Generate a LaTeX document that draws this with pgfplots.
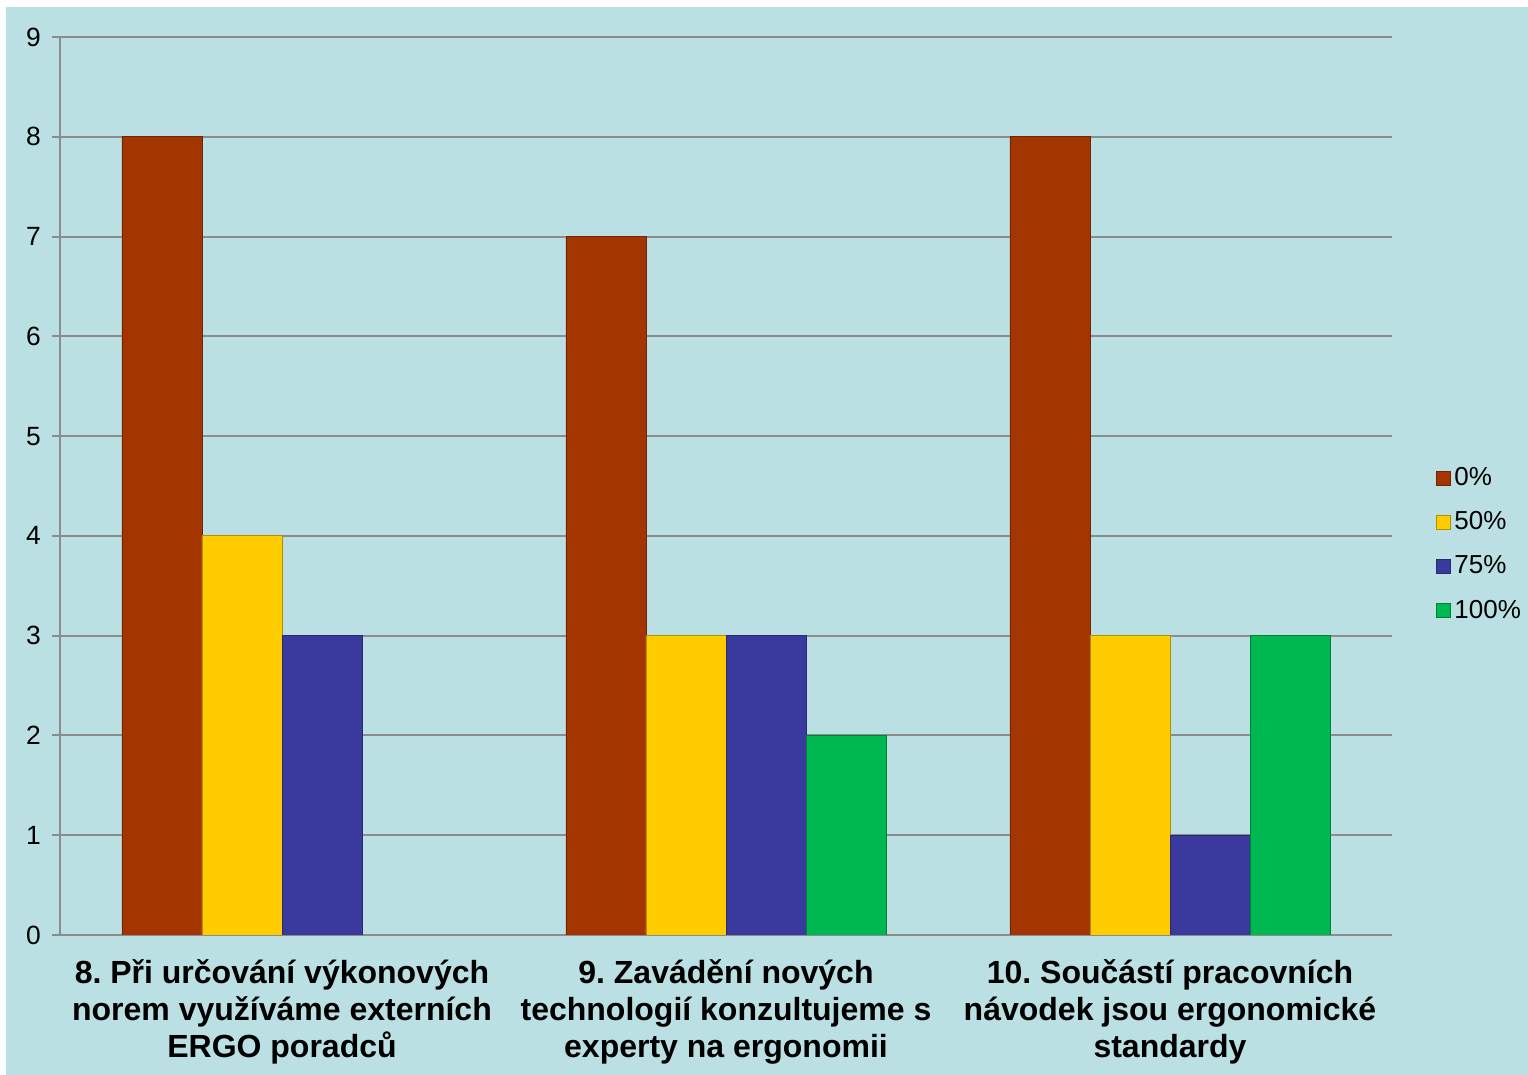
\documentclass[border=0pt]{standalone}
\usepackage{pgfplots}
\pgfplotsset{compat=1.18}
\usepackage{fontspec}
\setmainfont{Liberation Sans}
\frenchspacing
\definecolor{bgc}{HTML}{BAE0E3}
\definecolor{cred}{HTML}{A33500}
\definecolor{cyel}{HTML}{FFCC00}
\definecolor{cblu}{HTML}{3A3A9E}
\definecolor{cgrn}{HTML}{00B852}
\definecolor{gridc}{HTML}{8C8C8C}
\begin{document}
\begin{tikzpicture}
\useasboundingbox (0,0) rectangle (764pt,537.5pt);
\fill[white] (0,0) rectangle (764pt,537.5pt);
\fill[bgc] (3pt,0) rectangle (764pt,534pt);
\begin{axis}[
  at={(30pt,70pt)}, anchor=south west,
  scale only axis, width=666pt, height=449pt,
  ybar=0pt, bar width=40pt,
  xmin=-0.5, xmax=2.5, ymin=0, ymax=9,
  ytick={0,1,...,9},
  xtick={0,1,2},
  xticklabels={{8. Při určování výkonových\\norem využíváme externích\\ERGO poradců},
               {9. Zavádění nových\\technologií konzultujeme s\\experty na ergonomii},
               {10. Součástí pracovních\\návodek jsou ergonomické\\standardy}},
  xticklabel style={align=center, font=\fontsize{16pt}{18.5pt}\selectfont\bfseries, yshift=-5pt},
  major x tick style={draw=none},
  extra x ticks={-0.5,0.5,1.5,2.5},
  extra x tick labels={},
  extra x tick style={major tick length=4pt, tick style={draw=gridc, line width=0.8pt}, grid=none},
  tick align=outside,
  major tick length=4pt,
  yticklabel style={font=\fontsize{13.2pt}{15pt}\selectfont, xshift=-2pt},
  /pgf/number format/assume math mode=true,
  ymajorgrids, grid style={draw=gridc, line width=1pt},
  axis x line*=bottom, axis y line*=left,
  axis line style={draw=gridc, line width=1pt, -},
  y tick style={draw=gridc, line width=1pt},
  legend style={at={(1.028,0.435)}, anchor=west, draw=none, fill=none,
    font=\fontsize{13pt}{15pt}\selectfont, row sep=7.5pt,
    legend cell align=left},
  legend image code/.code={\fill[#1] (0pt,-3.5pt) rectangle (7pt,3.5pt);},
]
\addplot[fill=cred, draw=cred!70!black, line width=0.4pt] coordinates {(0,8) (1,7) (2,8)};
\addplot[fill=cyel, draw=cyel!70!black, line width=0.4pt] coordinates {(0,4) (1,3) (2,3)};
\addplot[fill=cblu, draw=cblu!70!black, line width=0.4pt] coordinates {(0,3) (1,3) (2,1)};
\addplot[fill=cgrn, draw=cgrn!70!black, line width=0.4pt] coordinates {(1,2) (2,3)};
\legend{0\%,50\%,75\%,100\%}
\end{axis}
\end{tikzpicture}
\end{document}
